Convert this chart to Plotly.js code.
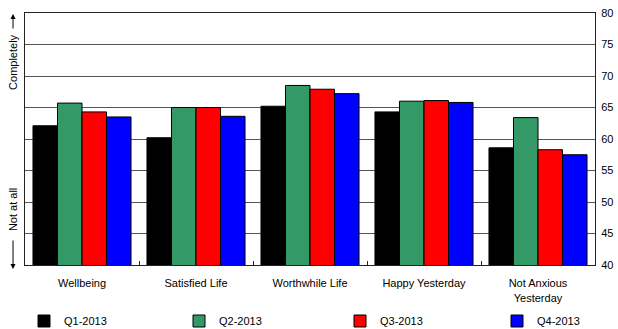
<!DOCTYPE html>
<html>
<head>
<meta charset="utf-8">
<script src="https://cdn.plot.ly/plotly-3.0.1.min.js"></script>
<style>html,body{margin:0;padding:0;background:#fff;}#chart{width:618px;height:329px;}</style>
</head>
<body>
<div id="chart"></div>
<script>
const categories = ["Wellbeing", "Satisfied Life", "Worthwhile Life", "Happy Yesterday", "Not Anxious<br>Yesterday"];
const seriesNames = ["Q1-2013", "Q2-2013", "Q3-2013", "Q4-2013"];
const q1 = [62.1, 60.2, 65.2, 64.3, 58.6];
const q2 = [65.7, 65.0, 68.5, 66.0, 63.4];
const q3 = [64.3, 65.0, 67.9, 66.1, 58.3];
const q4 = [63.5, 63.6, 67.2, 65.8, 57.5];
const yTicks = [40, 45, 50, 55, 60, 65, 70, 75, 80];
const colors = ["#000000", "#339966", "#ff0000", "#0000ff"];

const values = [q1, q2, q3, q4];
const legendIds = ["legend", "legend2", "legend3", "legend4"];
const traces = values.map((v, i) => ({
  type: "bar",
  name: seriesNames[i],
  x: categories,
  y: v,
  base: 0,
  legend: legendIds[i],
  marker: {color: colors[i], line: {color: "#000", width: 1}},
  hoverinfo: "skip"
}));

const font = {family: "Liberation Sans, Arial, sans-serif", size: 11, color: "#000"};

const layout = {
  width: 618, height: 329,
  margin: {l: 25, r: 23, t: 13, b: 64, pad: 0},
  paper_bgcolor: "#fff", plot_bgcolor: "#fff",
  font: font,
  barmode: "group",
  bargap: 0.14,
  bargroupgap: 0,
  showlegend: true,
  xaxis: {
    type: "category",
    showline: true, mirror: true, linecolor: "#222", linewidth: 1,
    ticks: "inside", tickson: "boundaries", ticklen: 4, tickcolor: "#222",
    showgrid: false, tickfont: font, ticklabelstandoff: 8
  },
  yaxis: {
    side: "right",
    range: [40, 80], tickvals: yTicks, ticktext: yTicks.map(String),
    showline: true, mirror: true, linecolor: "#222", linewidth: 1,
    showgrid: true, gridcolor: "#555", gridwidth: 1,
    ticks: "", tickfont: font, zeroline: false, ticklabelstandoff: 3
  },
  annotations: [
    {xref: "paper", yref: "paper", x: -0.021, y: 0.806, text: "Completely", textangle: -90,
     showarrow: false, font: font, xanchor: "center", yanchor: "middle"},
    {xref: "paper", yref: "paper", x: -0.021, y: 0.218, text: "Not at all", textangle: -90,
     showarrow: false, font: font, xanchor: "center", yanchor: "middle"},
    {xref: "paper", yref: "paper", x: -0.021, y: 0.996, text: "", showarrow: true,
     ax: 0, ay: 16, arrowhead: 2, arrowsize: 1, arrowwidth: 1, arrowcolor: "#000"},
    {xref: "paper", yref: "paper", x: -0.021, y: -0.016, text: "", showarrow: true,
     ax: 0, ay: -30, arrowhead: 2, arrowsize: 1, arrowwidth: 1, arrowcolor: "#000"}
  ]
};

const legendTextStarts = [63, 218, 379, 536];
legendIds.forEach((id, i) => {
  layout[id] = {
    orientation: "h", xref: "container", yref: "container",
    x: (legendTextStarts[i] - 39) / 618, xanchor: "left",
    y: 8 / 329, yanchor: "middle",
    itemwidth: 30, font: font, bgcolor: "rgba(0,0,0,0)"
  };
});

Plotly.newPlot("chart", traces, layout, {displayModeBar: false, staticPlot: true});
</script>
</body>
</html>
